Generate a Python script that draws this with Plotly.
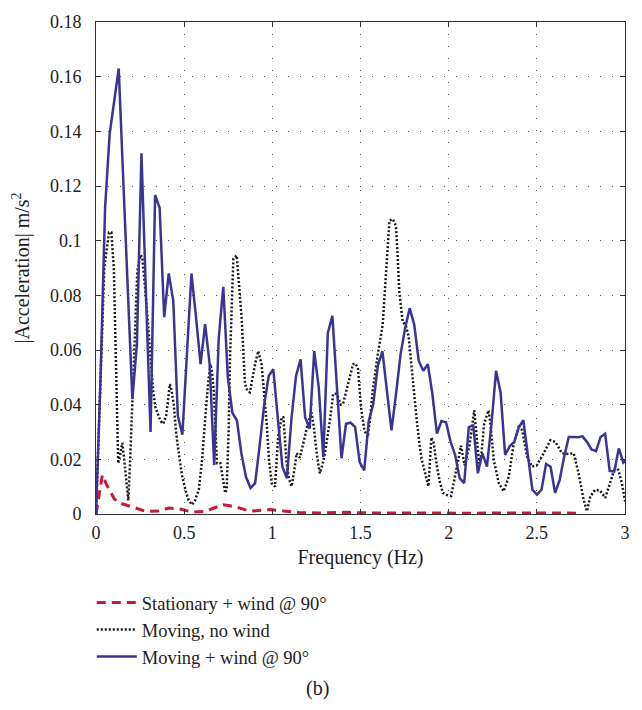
import numpy as np
import plotly.graph_objects as go

# Spectrum bin width of the moving + wind record (Hz)
df_wind = 0.02578

# |Acceleration| (m/s^2) for "Moving + wind @ 90°", one value per bin
moving_wind = [
    0.0, 0.05, 0.112, 0.139, 0.151, 0.163, 0.122, 0.082, 0.042, 0.062,
    0.132, 0.08, 0.030, 0.1167, 0.112, 0.072, 0.088, 0.078, 0.036, 0.029,
    0.058, 0.088, 0.072, 0.0548, 0.0695, 0.0548, 0.0179, 0.0644, 0.0831, 0.05,
    0.037, 0.0342, 0.022, 0.0135, 0.0095, 0.0113, 0.025, 0.04, 0.0505, 0.053,
    0.035, 0.0173, 0.0131, 0.035, 0.0505, 0.0566, 0.0354, 0.0312, 0.0596, 0.0463,
    0.0209, 0.0662, 0.0725, 0.046, 0.0204, 0.033, 0.0334, 0.0318, 0.019, 0.016,
    0.034, 0.0403, 0.0542, 0.0596, 0.045, 0.0306, 0.044, 0.0584, 0.068, 0.0753,
    0.0693, 0.056, 0.0524, 0.0548, 0.0439, 0.0294, 0.034, 0.0336, 0.0264, 0.0216,
    0.0131, 0.0113, 0.0318, 0.0324, 0.0149, 0.0222, 0.0173, 0.033, 0.0524, 0.0445,
    0.0216, 0.0248, 0.0264, 0.0316, 0.0343, 0.021, 0.0089, 0.0071, 0.0089, 0.0183,
    0.0173, 0.0077, 0.0125, 0.021, 0.0282, 0.0282, 0.0281, 0.0284, 0.0264, 0.0236,
    0.023, 0.0282, 0.0294, 0.0158, 0.0155, 0.024, 0.0188, 0.0205,
]
freq_wind = np.arange(len(moving_wind)) * df_wind

# "Moving, no wind"
freq_nowind = [
    0.000, 0.024, 0.047, 0.074, 0.087, 0.101, 0.111, 0.121, 0.126, 0.138,
    0.149, 0.160, 0.171, 0.183, 0.194, 0.205, 0.220, 0.234, 0.251, 0.262,
    0.281, 0.296, 0.309, 0.324, 0.337, 0.366, 0.381, 0.398, 0.419, 0.429,
    0.441, 0.454, 0.470, 0.488, 0.507, 0.525, 0.545, 0.562, 0.583, 0.602,
    0.620, 0.636, 0.649, 0.658, 0.668, 0.678, 0.686, 0.705, 0.720, 0.733,
    0.741, 0.752, 0.760, 0.779, 0.798, 0.811, 0.826, 0.845, 0.859, 0.873,
    0.887, 0.902, 0.920, 0.939, 0.952, 0.968, 0.981, 0.996, 1.015, 1.033,
    1.053, 1.062, 1.071, 1.081, 1.094, 1.109, 1.122, 1.138, 1.156, 1.170,
    1.184, 1.201, 1.222, 1.235, 1.252, 1.269, 1.284, 1.298, 1.326, 1.345,
    1.360, 1.373, 1.388, 1.401, 1.419, 1.439, 1.458, 1.473, 1.486, 1.503,
    1.522, 1.541, 1.555, 1.569, 1.598, 1.626, 1.645, 1.664, 1.683, 1.701,
    1.711, 1.720, 1.739, 1.758, 1.773, 1.787, 1.805, 1.818, 1.834, 1.847,
    1.862, 1.885, 1.902, 1.915, 1.932, 1.949, 1.967, 1.988, 2.014, 2.041,
    2.070, 2.090, 2.118, 2.145, 2.158, 2.173, 2.186, 2.201, 2.226, 2.237,
    2.256, 2.284, 2.312, 2.341, 2.369, 2.397, 2.417, 2.445, 2.473, 2.501,
    2.539, 2.577, 2.605, 2.643, 2.673, 2.709, 2.737, 2.765, 2.784, 2.803,
    2.831, 2.860, 2.888, 2.916, 2.945, 2.963, 2.982, 3.001,
]
moving_nowind = [
    0.0, 0.05, 0.09, 0.103, 0.103, 0.09, 0.057, 0.03, 0.0185, 0.022,
    0.026, 0.02, 0.012, 0.005, 0.02, 0.040, 0.065, 0.0886, 0.0947, 0.094,
    0.081, 0.068, 0.057, 0.045, 0.039, 0.034, 0.033, 0.036, 0.0475, 0.045,
    0.040, 0.03, 0.022, 0.014, 0.0089, 0.005, 0.0034, 0.005, 0.0089, 0.02,
    0.0354, 0.048, 0.0548, 0.052, 0.045, 0.03, 0.0186, 0.0186, 0.012, 0.0077,
    0.0089, 0.03, 0.057, 0.0934, 0.0946, 0.085, 0.0717, 0.0475, 0.045, 0.0445,
    0.05, 0.0548, 0.0596, 0.0548, 0.045, 0.033, 0.02, 0.0113, 0.01, 0.0282,
    0.0354, 0.0354, 0.028, 0.0185, 0.013, 0.0101, 0.015, 0.0222, 0.0206, 0.024,
    0.0282, 0.033, 0.0372, 0.032, 0.022, 0.0149, 0.018, 0.0222, 0.034, 0.0439,
    0.044, 0.0427, 0.04, 0.0403, 0.045, 0.0499, 0.0548, 0.055, 0.053, 0.039,
    0.0306, 0.0282, 0.035, 0.045, 0.0584, 0.0693, 0.0874, 0.1073, 0.1079, 0.1055,
    0.094, 0.0813, 0.0705, 0.0687, 0.065, 0.055, 0.045, 0.035, 0.0258, 0.02,
    0.0161, 0.0101, 0.028, 0.026, 0.018, 0.012, 0.0077, 0.007, 0.0066, 0.0149,
    0.025, 0.0178, 0.025, 0.0379, 0.03, 0.0185, 0.022, 0.033, 0.0379, 0.033,
    0.0197, 0.0113, 0.0083, 0.0137, 0.0258, 0.0318, 0.0306, 0.0209, 0.0173, 0.0179,
    0.0222, 0.027, 0.0264, 0.0222, 0.022, 0.0222, 0.0149, 0.0053, 0.001, 0.0064,
    0.0089, 0.0085, 0.0059, 0.0113, 0.0173, 0.016, 0.0113, 0.0046,
]

# "Stationary + wind @ 90°"
freq_stat = [
    0.000, 0.036, 0.058, 0.083, 0.104, 0.130, 0.187, 0.224, 0.281, 0.357,
    0.413, 0.477, 0.545, 0.620, 0.669, 0.722, 0.760, 0.798, 0.873, 0.930,
    0.986, 1.062, 1.156, 1.269, 1.411, 1.552, 1.722, 1.892, 2.062, 2.231,
    2.401, 2.571, 2.729,
]
stationary_wind = [
    0.0, 0.0143, 0.011, 0.0077, 0.0055, 0.0041, 0.0031, 0.0022, 0.001, 0.0011,
    0.0022, 0.0018, 0.0007, 0.001, 0.0022, 0.0034, 0.003, 0.0025, 0.001, 0.0014,
    0.0016, 0.0011, 0.0005, 0.0004, 0.0006, 0.0004, 0.0005, 0.0004, 0.0003, 0.0004,
    0.0003, 0.0004, 0.0003,
]

x_ticks = [0, 0.5, 1, 1.5, 2, 2.5, 3]
y_ticks = [0, 0.02, 0.04, 0.06, 0.08, 0.1, 0.12, 0.14, 0.16, 0.18]

SERIF = "Liberation Serif, Times New Roman, serif"
INK = "#222222"

fig = go.Figure()
fig.add_trace(go.Scatter(
    x=freq_stat, y=stationary_wind, mode="lines",
    name="Stationary + wind @ 90°",
    line=dict(color="#c8193c", width=3, dash="9px,6px"),
))
fig.add_trace(go.Scatter(
    x=freq_nowind, y=moving_nowind, mode="lines",
    name="Moving, no wind",
    line=dict(color="#1a1a1a", width=2.5, dash="2px,2px"),
))
fig.add_trace(go.Scatter(
    x=freq_wind, y=moving_wind, mode="lines",
    name="Moving + wind @ 90°",
    line=dict(color="#3b3494", width=2.5),
))

axis_common = dict(
    showline=True, linecolor="#333333", linewidth=1, mirror="ticks",
    ticks="inside", ticklen=5, tickcolor="#333333", tickwidth=1,
    showgrid=True, gridcolor="#555555", gridwidth=1, griddash="1px,11px",
    zeroline=False, tickfont=dict(family=SERIF, size=18, color=INK),
)

fig.update_layout(
    width=642, height=710,
    margin=dict(l=96, r=16, t=17, b=196),
    paper_bgcolor="white", plot_bgcolor="white",
    font=dict(family=SERIF, size=20, color=INK),
    xaxis=dict(
        range=[0, 3], tickvals=x_ticks, ticktext=[f"{v:g}" for v in x_ticks],
        title=dict(text="Frequency (Hz)", font=dict(family=SERIF, size=20), standoff=8),
        ticklabelstandoff=2,
        **axis_common,
    ),
    yaxis=dict(
        range=[0, 0.18], tickvals=y_ticks, ticktext=[f"{v:g}" for v in y_ticks],
        title=dict(text="|Acceleration| m/s<sup>2</sup>", font=dict(family=SERIF, size=20), standoff=14),
        ticklabelstandoff=10,
        **axis_common,
    ),
    legend=dict(
        x=-0.008, y=-0.142, xanchor="left", yanchor="top",
        font=dict(family=SERIF, size=18.5, color=INK),
        bgcolor="rgba(0,0,0,0)", itemwidth=40, tracegroupgap=0,
    ),
    showlegend=True,
    annotations=[dict(
        text="(b)", x=0.419, y=-0.354, xref="paper", yref="paper",
        xanchor="center", yanchor="middle",
        showarrow=False, font=dict(family=SERIF, size=20, color=INK),
    )],
)

fig.write_html("out.html")
